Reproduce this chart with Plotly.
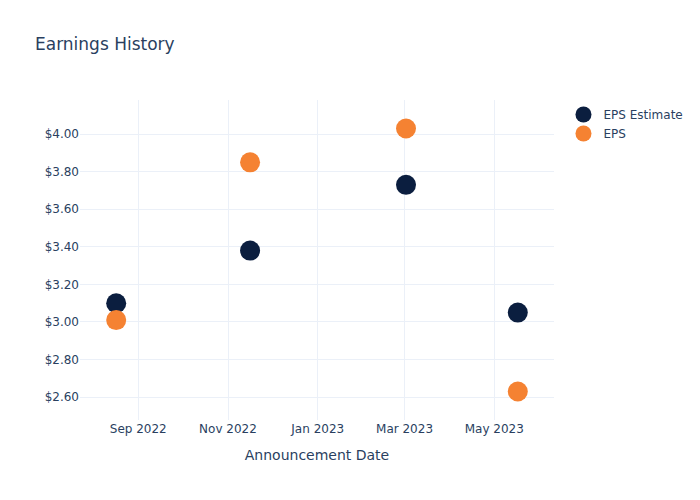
import plotly.graph_objects as go

dates = ["2022-08-17", "2022-11-16", "2023-03-02", "2023-05-17"]
eps_estimate = [3.10, 3.38, 3.73, 3.05]
eps_actual = [3.01, 3.85, 4.03, 2.63]

fig = go.Figure()
fig.add_trace(go.Scatter(x=dates, y=eps_estimate, mode="markers", name="EPS Estimate",
                         marker=dict(color="#0b1e3f", size=20)))
fig.add_trace(go.Scatter(x=dates, y=eps_actual, mode="markers", name="EPS",
                         marker=dict(color="#f58232", size=20)))
fig.update_layout(
    template="plotly_white",
    width=700, height=500,
    font=dict(family="DejaVu Sans", color="#2a3f5f"),
    title=dict(text="Earnings History"),
    xaxis=dict(title=dict(text="Announcement Date"), type="date"),
    yaxis=dict(tickprefix="$", tickformat=".2f"),
)
fig.write_html("out.html")
